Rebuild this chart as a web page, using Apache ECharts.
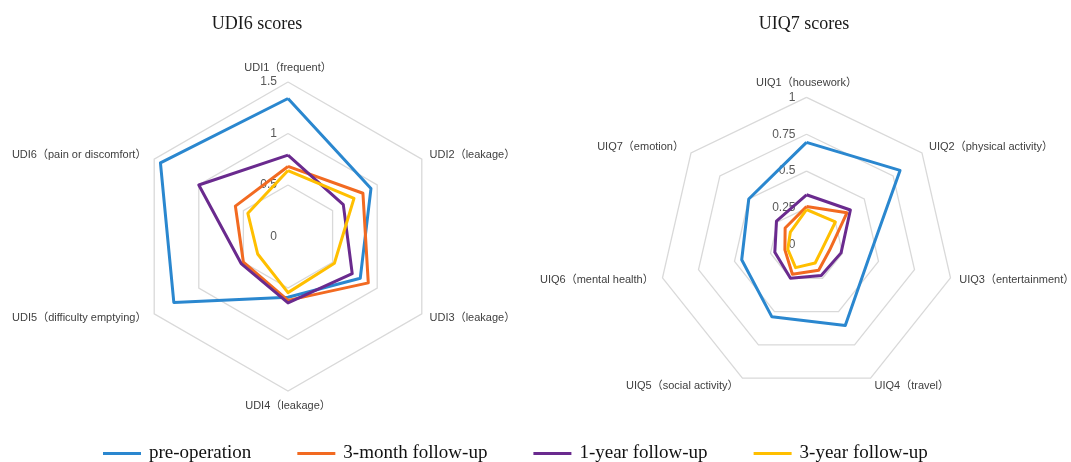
<!DOCTYPE html>
<html>
<head>
<meta charset="utf-8">
<script src="https://cdn.jsdelivr.net/npm/echarts@6/dist/echarts.min.js"></script>
<style>
  html, body { margin: 0; padding: 0; background: #ffffff; }
  #chart { width: 1071px; height: 462px; }
</style>
</head>
<body>
<div id="chart"></div>
<script>
// Groups shown in the legend
const groups = ['pre-operation', '3-month follow-up', '1-year follow-up', '3-year follow-up'];
const groupColors = ['#2a87cf', '#f26a21', '#6a2a8e', '#ffbf00'];

// UDI6 questionnaire (scale 0 - 1.5)
const udiItems = ['UDI1（frequent）', 'UDI2（leakage）', 'UDI3（leakage）', 'UDI4（leakage）',
                  'UDI5（difficulty emptying）', 'UDI6（pain or discomfort）'];
const udiPre = [1.34, 0.93, 0.81, 0.59, 1.28, 1.43];
const udi3Month = [0.68, 0.84, 0.90, 0.62, 0.50, 0.59];
const udi1Year = [0.79, 0.62, 0.72, 0.645, 0.525, 1.00];
const udi3Year = [0.64, 0.74, 0.52, 0.545, 0.34, 0.45];
const udiMax = 1.5;

// UIQ7 questionnaire (scale 0 - 1)
const uiqItems = ['UIQ1（housework）', 'UIQ2（physical activity）', 'UIQ3（entertainment）', 'UIQ4（travel）',
                  'UIQ5（social activity）', 'UIQ6（mental health）', 'UIQ7（emotion）'];
const uiqPre = [0.695, 0.81, 0.43, 0.605, 0.54, 0.45, 0.50];
const uiq3Month = [0.26, 0.35, 0.16, 0.19, 0.22, 0.15, 0.185];
const uiq1Year = [0.34, 0.38, 0.24, 0.23, 0.25, 0.22, 0.26];
const uiq3Year = [0.24, 0.25, 0.11, 0.135, 0.17, 0.13, 0.14];
const uiqMax = 1;

// ECharts lays indicators out counter-clockwise; keep the first one on top
// and reverse the rest so the items run clockwise.
function clockwise(arr) {
  return [arr[0]].concat(arr.slice(1).reverse());
}

const sansFont = '"Liberation Sans", "Noto Sans CJK SC", sans-serif';
const serifFont = '"Liberation Serif", "DejaVu Serif", serif';

// Tick labels are drawn only along the top (first) axis.
function indicators(items, max) {
  return clockwise(items).map((name, i) => {
    const ind = { name: name, min: 0, max: max };
    if (i > 0) ind.axisLabel = { show: false };
    return ind;
  });
}

function radarBox(center, radius, splitNumber, items, max) {
  return {
    center: center,
    radius: radius,
    startAngle: 90,
    splitNumber: splitNumber,
    shape: 'polygon',
    indicator: indicators(items, max),
    axisName: { color: '#404040', fontSize: 11, fontFamily: sansFont },
    nameGap: 9,
    axisLine: { show: false },
    axisTick: { show: false },
    axisLabel: { show: true, color: '#595959', fontSize: 12, fontFamily: sansFont, margin: 11 },
    splitLine: { lineStyle: { color: '#d9d9d9', width: 1.3 } },
    splitArea: { show: false }
  };
}

function radarSeries(radarIndex, rows) {
  return {
    type: 'radar',
    radarIndex: radarIndex,
    symbol: 'none',
    silent: true,
    data: rows.map((vals, i) => ({
      name: groups[i],
      value: clockwise(vals),
      lineStyle: { color: groupColors[i], width: 3 },
      itemStyle: { color: groupColors[i] }
    }))
  };
}

const chart = echarts.init(document.getElementById('chart'), null, { renderer: 'canvas' });
chart.setOption({
  animation: false,
  backgroundColor: '#ffffff',
  title: [
    { text: 'UDI6 scores', left: 252, top: 10, textAlign: 'center',
      textStyle: { fontFamily: serifFont, fontSize: 18, fontWeight: 'normal', color: '#1a1a1a' } },
    { text: 'UIQ7 scores', left: 799, top: 10, textAlign: 'center',
      textStyle: { fontFamily: serifFont, fontSize: 18, fontWeight: 'normal', color: '#1a1a1a' } }
  ],
  legend: {
    data: groups,
    top: 439,
    left: 98,
    icon: 'rect',
    itemWidth: 38,
    itemHeight: 3,
    itemGap: 46,
    textStyle: { fontFamily: serifFont, fontSize: 19, color: '#111111', padding: [0, 0, 0, 3] }
  },
  radar: [
    radarBox([288, 236.5], 154.5, 3, udiItems, udiMax),
    radarBox([806.5, 245], 147.7, 4, uiqItems, uiqMax)
  ],
  series: [
    radarSeries(0, [udiPre, udi3Month, udi1Year, udi3Year]),
    radarSeries(1, [uiqPre, uiq3Month, uiq1Year, uiq3Year])
  ]
});
</script>
</body>
</html>
